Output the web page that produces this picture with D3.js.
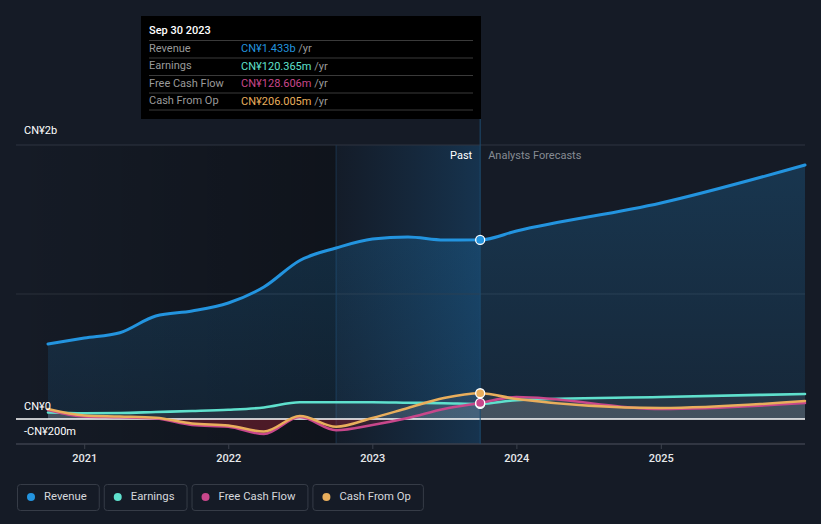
<!DOCTYPE html>
<html>
<head>
<meta charset="utf-8">
<script src="https://cdn.jsdelivr.net/npm/d3@7/dist/d3.min.js"></script>
<style>
html,body{margin:0;padding:0;background:#151b26;}
svg{display:block;font-family:Roboto,"Noto Sans",sans-serif;}
</style>
</head>
<body>
<svg id="chart" width="821" height="524"></svg>
<script>
// ---- data ----
const pastDates = ["2020-09-30","2020-12-31","2021-03-31","2021-06-30","2021-09-30","2021-12-31","2022-03-31","2022-06-30","2022-09-30","2022-12-31","2023-03-31","2023-06-30","2023-09-30"];
const forecastDates = ["2023-12-31","2024-12-31","2025-12-31"];
const revenuePast = [0.600, 0.648, 0.690, 0.824, 0.864, 0.928, 1.056, 1.268, 1.368, 1.440, 1.456, 1.432, 1.433]; // CN¥ b
const revenueForecast = [1.504, 1.728, 2.032];
const earningsPast = [52, 46, 48, 56, 64, 74, 92, 134, 134, 134, 130, 126, 120.365]; // CN¥ m
const earningsForecast = [150, 176, 200];
const fcfPast = [72, 20, 14, 4, -48, -62, -120, 16, -90, -48, 8, 80, 128.606];
const fcfForecast = [176, 80, 128];
const cfoPast = [80, 28, 20, 10, -36, -52, -100, 24, -62, 8, 88, 168, 206.005];
const cfoForecast = [160, 88, 144];
const seriesNames = ["Revenue","Earnings","Free Cash Flow","Cash From Op"];
const seriesColors = ["#2394df","#5fe0cd","#c8478b","#e9ae5c"];
const tooltipValues = ["CN¥1.433b","CN¥120.365m","CN¥128.606m","CN¥206.005m"];
const tooltipDate = "Sep 30 2023";
const xTickYears = [2021, 2022, 2023, 2024, 2025];
const yTickLabels = [{v:-200e6, t:"-CN¥200m"}, {v:0, t:"CN¥0"}];
const topLabel = "CN¥2b";
const highlightStart = "2022-09-30";

// ---- setup ----
const W = 821, H = 524;
const svg = d3.select("#chart");
const parse = d3.timeParse("%Y-%m-%d");
const plotLeft = 16, plotRight = 805;
const x = d3.scaleTime().domain([parse("2020-09-30"), parse("2025-12-31")]).range([48, 805]);
const y = d3.scaleLinear().domain([-200e6, 2.192e9]).range([444, 145]);

const mk = (past, fc, mult) => {
  const p = past.map((v,i)=>({d:parse(pastDates[i]), v:v*mult}));
  const f = fc.map((v,i)=>({d:parse(forecastDates[i]), v:v*mult}));
  return p.concat(f);
};
const series = [
  mk(revenuePast, revenueForecast, 1e9),
  mk(earningsPast, earningsForecast, 1e6),
  mk(fcfPast, fcfForecast, 1e6),
  mk(cfoPast, cfoForecast, 1e6)
];
const nowDate = parse(pastDates[pastDates.length-1]);
const xNow = x(nowDate), xHi = x(parse(highlightStart));

const defs = svg.append("defs");
const gPast = defs.append("linearGradient").attr("id","gPast").attr("x1","0").attr("x2","1").attr("y1","0").attr("y2","0");
gPast.append("stop").attr("offset","0").attr("stop-color","#000").attr("stop-opacity",0);
gPast.append("stop").attr("offset","1").attr("stop-color","#000").attr("stop-opacity",0.28);
const gHi = defs.append("linearGradient").attr("id","gHi").attr("x1","0").attr("x2","1").attr("y1","0").attr("y2","0");
gHi.append("stop").attr("offset","0").attr("stop-color","#1a4a75").attr("stop-opacity",0.08);
gHi.append("stop").attr("offset","1").attr("stop-color","#1a5585").attr("stop-opacity",0.45);
const gRev = defs.append("linearGradient").attr("id","gRev").attr("x1","0").attr("x2","0").attr("y1","0").attr("y2","1");
gRev.append("stop").attr("offset","0").attr("stop-color","#2394df").attr("stop-opacity",0.22);
gRev.append("stop").attr("offset","1").attr("stop-color","#2394df").attr("stop-opacity",0.10);

defs.append("clipPath").attr("id","clipPos").append("rect").attr("x",0).attr("y",0).attr("width",W).attr("height",y(0));
defs.append("clipPath").attr("id","clipNeg").append("rect").attr("x",0).attr("y",y(0)).attr("width",W).attr("height",H-y(0));

// backgrounds
svg.append("rect").attr("x",plotLeft).attr("y",y.range()[1]).attr("width",xHi-plotLeft).attr("height",y.range()[0]-y.range()[1]).attr("fill","url(#gPast)");
svg.append("rect").attr("x",xHi).attr("y",y.range()[1]).attr("width",xNow-xHi).attr("height",y.range()[0]-y.range()[1]).attr("fill","#0f131a").attr("opacity",0.3);
svg.append("rect").attr("x",xHi).attr("y",y.range()[1]).attr("width",xNow-xHi).attr("height",y.range()[0]-y.range()[1]).attr("fill","url(#gHi)");

// gridlines
svg.append("line").attr("x1",plotLeft).attr("x2",plotRight).attr("y1",y.range()[1]).attr("y2",y.range()[1]).attr("stroke","#2f3540").attr("stroke-width",1);
svg.append("line").attr("x1",plotLeft).attr("x2",plotRight).attr("y1",y(1e9)).attr("y2",y(1e9)).attr("stroke","#2a303b").attr("stroke-width",1);
svg.append("line").attr("x1",xHi).attr("x2",xHi).attr("y1",y.range()[1]).attr("y2",y.range()[0]).attr("stroke","#1b344c").attr("stroke-width",1);

// areas
const curve = d3.curveMonotoneX;
const area = d3.area().x(d=>x(d.d)).y0(y(0)).y1(d=>y(d.v)).curve(curve);
const line = d3.line().x(d=>x(d.d)).y(d=>y(d.v)).curve(curve);

svg.append("path").datum(series[0]).attr("d",area).attr("fill","url(#gRev)");
[1,2,3].forEach(i=>{
  svg.append("path").datum(series[i]).attr("d",area).attr("fill","#ffffff").attr("fill-opacity",0.07).attr("clip-path","url(#clipPos)");
  svg.append("path").datum(series[i]).attr("d",area).attr("fill","#c8283c").attr("fill-opacity",0.18).attr("clip-path","url(#clipNeg)");
});

// zero line & axis line
svg.append("line").attr("x1",plotLeft).attr("x2",plotRight).attr("y1",y(0)).attr("y2",y(0)).attr("stroke","#ffffff").attr("stroke-width",1.5);
svg.append("line").attr("x1",plotLeft).attr("x2",plotRight).attr("y1",y.range()[0]).attr("y2",y.range()[0]).attr("stroke","#3b414c").attr("stroke-width",1.5);

// lines
[0,1,2,3].forEach(i=>{
  svg.append("path").datum(series[i]).attr("d",line).attr("fill","none").attr("stroke",seriesColors[i]).attr("stroke-width",i===0?3:2.6).attr("stroke-linecap","round");
});

// now line
svg.append("line").attr("x1",xNow).attr("x2",xNow).attr("y1",119).attr("y2",y.range()[0]).attr("stroke","#1d4a6e").attr("stroke-width",1);

// dots
[1,0,3,2].forEach(i=>{
  const d = series[i][pastDates.length-1];
  svg.append("circle").attr("cx",x(d.d)).attr("cy",y(d.v)).attr("r",4.5).attr("fill",seriesColors[i]).attr("stroke","#ffffff").attr("stroke-width",1.3);
});

// x axis
const xAxis = svg.append("g").attr("transform",`translate(0,${y.range()[0]})`);
xTickYears.forEach(yr=>{
  const xx = x(new Date(yr,0,1));
  xAxis.append("line").attr("x1",xx).attr("x2",xx).attr("y1",0).attr("y2",5).attr("stroke","#3b414c");
  xAxis.append("text").attr("x",xx).attr("y",18).attr("text-anchor","middle").attr("fill","#e6e8eb").attr("font-size",11).attr("font-weight",500).text(yr);
});

// y labels
yTickLabels.forEach(t=>{
  svg.append("text").attr("x",24).attr("y",y(t.v)-12).attr("dominant-baseline","middle").attr("fill","#ffffff").attr("font-size",11).text(t.t);
});
svg.append("text").attr("x",24).attr("y",y.range()[1]-14).attr("dominant-baseline","middle").attr("fill","#ffffff").attr("font-size",11).text(topLabel);

// past / forecast labels
svg.append("text").attr("x",xNow-8).attr("y",156).attr("text-anchor","end").attr("dominant-baseline","middle").attr("fill","#ffffff").attr("font-size",11).text("Past");
svg.append("text").attr("x",xNow+8).attr("y",156).attr("dominant-baseline","middle").attr("fill","#868b93").attr("font-size",11).text("Analysts Forecasts");

// tooltip
const tt = svg.append("g");
tt.append("rect").attr("x",141).attr("y",16).attr("width",340).attr("height",103).attr("fill","#000000");
tt.append("text").attr("x",149).attr("y",31).attr("dominant-baseline","middle").attr("fill","#ffffff").attr("font-size",11).attr("font-weight",500).text(tooltipDate);
seriesNames.forEach((n,i)=>{
  const yy = 49 + i*17.5;
  tt.append("line").attr("x1",149).attr("x2",473).attr("y1",yy-8.5).attr("y2",yy-8.5).attr("stroke","#3a3a3a").attr("stroke-width",1);
  tt.append("text").attr("x",149).attr("y",yy).attr("dominant-baseline","middle").attr("fill","#9a9a9a").attr("font-size",11).text(n);
  const t = tt.append("text").attr("x",241).attr("y",yy).attr("dominant-baseline","middle").attr("font-size",11);
  t.append("tspan").attr("fill",seriesColors[i]).text(tooltipValues[i]);
  t.append("tspan").attr("fill","#9a9a9a").text(" /yr");
});
tt.append("line").attr("x1",149).attr("x2",473).attr("y1",49+3*17.5+8.5).attr("y2",49+3*17.5+8.5).attr("stroke","#3a3a3a").attr("stroke-width",1);

// legend
const legend = svg.append("g");
let lx = 17;
seriesNames.forEach((n,i)=>{
  const g = legend.append("g");
  const txt = g.append("text").attr("x",lx+27).attr("y",497).attr("dominant-baseline","middle").attr("fill","#d5d8dc").attr("font-size",11.3).text(n);
  const w = txt.node().getComputedTextLength() + 27 + 12;
  g.insert("rect","text").attr("x",lx+0.5).attr("y",484.5).attr("width",w).attr("height",26).attr("rx",3).attr("fill","none").attr("stroke","#363c47");
  g.append("circle").attr("cx",lx+14).attr("cy",497).attr("r",4).attr("fill",seriesColors[i]);
  lx += w + 5;
});
</script>
</body>
</html>
